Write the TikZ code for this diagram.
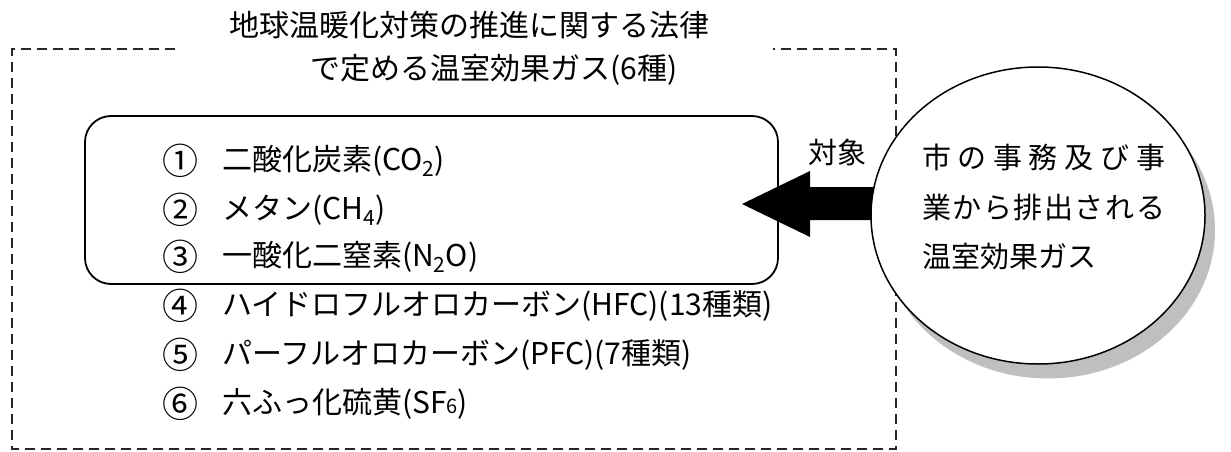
\documentclass[tikz,border=0pt]{standalone}
\usepackage{fontspec}
\setmainfont{Noto Sans CJK JP}
\newfontfamily\gothic{Noto Sans CJK JP}
\usetikzlibrary{shapes.geometric}
\begin{document}
\begin{tikzpicture}[x=1pt,y=-1pt,
  every node/.style={inner sep=0pt, outer sep=0pt},
  ttl/.style={font=\fontsize{30}{34}\selectfont},
  num/.style={font=\fontsize{36}{40}\selectfont},
  itm/.style={anchor=west, font=\fontsize{30}{34}\selectfont},
  etxt/.style={anchor=west, font=\fontsize{29}{34}\selectfont},
  dashbox/.style={draw=black!85, line width=2.2pt, dash pattern=on 10pt off 6pt},
  roundbox/.style={draw=black, line width=1.8pt, rounded corners=26pt},
  bubble/.style={ellipse, draw=black, line width=1.5pt, fill=white, minimum width=334pt, minimum height=297pt},
  bubbleshadow/.style={ellipse, fill=black!25, minimum width=334pt, minimum height=297pt},
  bigarrow/.style={fill=black}]
\useasboundingbox (0,0) rectangle (1231,452);
% outer dashed frame with a gap for the title
\coordinate (g1) at (175,49);
\coordinate (g2) at (773,49);
\draw[dashbox] (g1) -- (12,49) -- (12,449) -- (896,449) -- (896,49) -- (g2);
% title
\node[ttl] (t1) at (469,25) {地球温暖化対策の推進に関する法律};
\node[ttl] (t2) at (494,70) {で定める温室効果ガス(6種)};
% rounded box
\draw[roundbox] (85,116) rectangle (778,284);
% list
\node[num] (n1) at (180,161) {①};
\node[num] (n2) at (180,210) {②};
\node[num] (n3) at (180,257) {③};
\node[num] (n4) at (180,306) {④};
\node[num] (n5) at (180,355) {⑤};
\node[num] (n6) at (180,404) {⑥};
\node[itm] (i1) at (222,161) {二酸化炭素(CO\textsubscript{2})};
\node[itm] (i2) at (222,210) {メタン(CH\textsubscript{4})};
\node[itm] (i3) at (222,257) {一酸化二窒素(N\textsubscript{2}O)};
\node[itm] (i4) at (222,306) {ハイドロフルオロカーボン(HFC)(13種類)};
\node[itm] (i5) at (222,355) {パーフルオロカーボン(PFC)(7種類)};
\node[itm] (i6) at (222,404) {六ふっ化硫黄(SF{\fontsize{20}{20}\selectfont 6})};
% label
\node[font=\gothic\fontsize{29}{34}\selectfont] (lab) at (837,152) {対象};
% shadow, arrow, bubble
\node[bubbleshadow] (sh) at (1048,230) {};
\coordinate (tip) at (742,204);
\fill[bigarrow] (tip) -- (810,171) -- (810,187) -- (910,187) -- (910,220) -- (810,220) -- (810,237) -- cycle;
\node[bubble] (el) at (1038,215.5) {};
\node[etxt] (e1) at (922,157) {\makebox[243pt][s]{市\hfill の\hfill 事\hfill 務\hfill 及\hfill び\hfill 事}};
\node[etxt] (e2) at (922,207) {\makebox[243pt][s]{業\hfill か\hfill ら\hfill 排\hfill 出\hfill さ\hfill れ\hfill る}};
\node[etxt] (e3) at (922,257) {温室効果ガス};
\end{tikzpicture}
\end{document}
